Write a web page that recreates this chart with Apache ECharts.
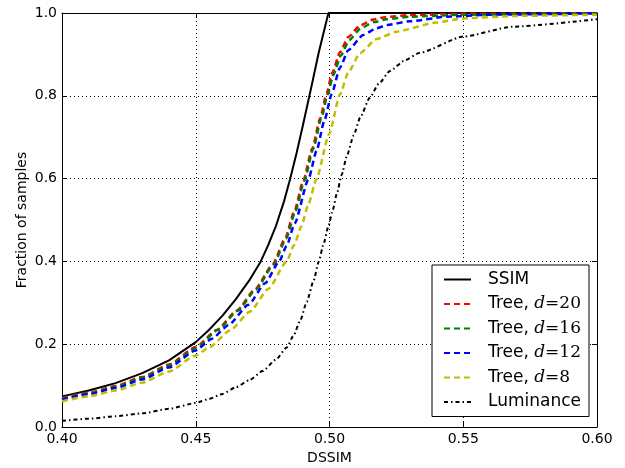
<!DOCTYPE html>
<html>
<head>
<meta charset="utf-8">
<script src="https://cdn.jsdelivr.net/npm/echarts@6/dist/echarts.min.js"></script>
<style>html,body{margin:0;padding:0;background:#fff;}#c{width:625px;height:468px;}</style>
</head>
<body>
<div id="c"></div>
<script>
var xTicks = [0.40, 0.45, 0.50, 0.55, 0.60];
var yTicks = [0.0, 0.2, 0.4, 0.6, 0.8, 1.0];

var ssim = [[0.400,0.074],[0.410,0.088],[0.420,0.106],[0.430,0.130],[0.440,0.161],[0.450,0.205],[0.455,0.235],[0.460,0.269],[0.465,0.309],[0.470,0.354],[0.4743,0.400],[0.4770,0.438],[0.4800,0.486],[0.4830,0.545],[0.4852,0.597],[0.4877,0.662],[0.4900,0.727],[0.4930,0.815],[0.4960,0.905],[0.4996,1.0],[0.600,1.0]];
var tree20 = [[0.400,0.070],[0.410,0.083],[0.420,0.099],[0.430,0.121],[0.440,0.151],[0.450,0.193],[0.4578,0.234],[0.4653,0.281],[0.4721,0.332],[0.4787,0.392],[0.4834,0.455],[0.4868,0.520],[0.4902,0.595],[0.4935,0.672],[0.4965,0.745],[0.4989,0.805],[0.5010,0.855],[0.5039,0.905],[0.5070,0.942],[0.5114,0.970],[0.5163,0.984],[0.5208,0.990],[0.530,0.995],[0.550,0.998],[0.600,1.0]];
var tree16 = [[0.400,0.068],[0.410,0.081],[0.420,0.097],[0.430,0.119],[0.440,0.148],[0.450,0.190],[0.4582,0.234],[0.4657,0.281],[0.4725,0.332],[0.4791,0.392],[0.4838,0.455],[0.4872,0.520],[0.4906,0.595],[0.4939,0.672],[0.4969,0.745],[0.4993,0.803],[0.5014,0.850],[0.5043,0.898],[0.5074,0.935],[0.5118,0.964],[0.5167,0.978],[0.5212,0.985],[0.530,0.991],[0.550,0.996],[0.600,0.999]];
var tree12 = [[0.400,0.066],[0.410,0.079],[0.420,0.094],[0.430,0.115],[0.440,0.144],[0.450,0.185],[0.4560,0.213],[0.4622,0.246],[0.4697,0.295],[0.4759,0.347],[0.4812,0.400],[0.4840,0.438],[0.4870,0.492],[0.4921,0.598],[0.4952,0.668],[0.4980,0.738],[0.5008,0.804],[0.5039,0.868],[0.5070,0.910],[0.5126,0.947],[0.5176,0.963],[0.5215,0.971],[0.530,0.980],[0.544,0.991],[0.560,0.996],[0.600,0.999]];
var tree8 = [[0.400,0.062],[0.410,0.074],[0.420,0.088],[0.430,0.107],[0.440,0.134],[0.450,0.173],[0.455,0.192],[0.4628,0.233],[0.4703,0.279],[0.4772,0.334],[0.4840,0.400],[0.4868,0.440],[0.4895,0.485],[0.4922,0.540],[0.4950,0.597],[0.4999,0.708],[0.5039,0.803],[0.5070,0.856],[0.5114,0.903],[0.5176,0.937],[0.5250,0.955],[0.540,0.977],[0.550,0.987],[0.570,0.993],[0.600,0.996]];
var luminance = [[0.400,0.015],[0.410,0.020],[0.420,0.026],[0.430,0.033],[0.440,0.044],[0.450,0.058],[0.455,0.068],[0.460,0.080],[0.465,0.096],[0.470,0.113],[0.475,0.135],[0.480,0.163],[0.484,0.192],[0.4865,0.220],[0.489,0.256],[0.4915,0.302],[0.494,0.352],[0.496,0.400],[0.4977,0.440],[0.4996,0.485],[0.5012,0.524],[0.5028,0.565],[0.5045,0.608],[0.5065,0.655],[0.5090,0.704],[0.5115,0.748],[0.5150,0.795],[0.5185,0.830],[0.5226,0.860],[0.5282,0.886],[0.5338,0.904],[0.550,0.943],[0.5686,0.967],[0.600,0.985]];

var names = ['SSIM', 'Tree, d=20', 'Tree, d=16', 'Tree, d=12', 'Tree, d=8', 'Luminance'];
var colors = ['#000000', '#ff0000', '#008000', '#0000ff', '#bfbf00', '#000000'];

var font = 'DejaVu Sans';
var chart = echarts.init(document.getElementById('c'), null, {renderer: 'canvas'});

function mkSeries(name, data, color, type, width, smooth) {
  return {
    name: name, type: 'line', data: data, symbol: 'none',
    smooth: smooth, smoothMonotone: 'x',
    xAxisIndex: 0, yAxisIndex: 0,
    lineStyle: {color: color, width: width, type: type},
    itemStyle: {color: color},
    animation: false, z: 3
  };
}

var axisCommon = {
  axisLine: {show: true, onZero: false, lineStyle: {color: '#000', width: 1}},
  axisTick: {show: true, inside: true, length: 5, lineStyle: {color: '#000', width: 1}}
};

var option = {
  backgroundColor: '#fff',
  animation: false,
  grid: {left: 62, right: 28, top: 13, bottom: 41, containLabel: false, outerBoundsMode: 'none'},
  xAxis: [
    Object.assign({
      type: 'value', min: 0.4, max: 0.6, interval: 0.05, position: 'bottom',
      name: 'DSSIM', nameLocation: 'middle', nameGap: 24, nameMoveOverlap: false,
      nameTextStyle: {fontFamily: font, fontSize: 14, color: '#000'},
      axisLabel: {fontFamily: font, fontSize: 14, color: '#000', margin: 5,
        formatter: function (v) { return v.toFixed(2); }},
      splitLine: {show: true, lineStyle: {color: '#000', type: [1, 3], width: 1}}
    }, axisCommon),
    Object.assign({
      type: 'value', min: 0.4, max: 0.6, interval: 0.05, position: 'top',
      axisLabel: {show: false}, splitLine: {show: false}
    }, axisCommon)
  ],
  yAxis: [
    Object.assign({
      type: 'value', min: 0, max: 1, interval: 0.2, position: 'left',
      name: 'Fraction of samples', nameLocation: 'middle', nameGap: 33, nameMoveOverlap: false,
      nameTextStyle: {fontFamily: font, fontSize: 14, color: '#000'},
      axisLabel: {fontFamily: font, fontSize: 14, color: '#000', margin: 5,
        formatter: function (v) { return v.toFixed(1); }},
      splitLine: {show: true, lineStyle: {color: '#000', type: [1, 3], width: 1}}
    }, axisCommon),
    Object.assign({
      type: 'value', min: 0, max: 1, interval: 0.2, position: 'right',
      axisLabel: {show: false}, splitLine: {show: false}
    }, axisCommon)
  ],
  legend: {
    orient: 'vertical', left: 432, top: 265,
    data: names,
    backgroundColor: '#fff', borderColor: '#000', borderWidth: 1, borderRadius: 0,
    padding: [6, 8, 6, 11],
    itemWidth: 27, itemHeight: 14, itemGap: 7.5,
    itemStyle: {opacity: 0, borderWidth: 0},
    textStyle: {
      fontFamily: font, fontSize: 17, color: '#000', lineHeight: 17, padding: [0, 0, 0, 12],
      rich: {
        i: {fontFamily: 'DejaVu Serif', fontStyle: 'italic', fontSize: 17, color: '#000'},
        m: {fontFamily: 'DejaVu Serif', fontSize: 17, color: '#000'}
      }
    },
    formatter: function (n) {
      var m = n.match(/^Tree, d=(\d+)$/);
      if (m) { return 'Tree, {i|d}{m|=' + m[1] + '}'; }
      return n;
    }
  },
  series: [
    mkSeries(names[0], ssim, colors[0], 'solid', 2, false),
    mkSeries(names[1], tree20, colors[1], [6, 4], 2.5, 0.2),
    mkSeries(names[2], tree16, colors[2], [6, 4], 2.5, 0.2),
    mkSeries(names[3], tree12, colors[3], [6, 4], 2.5, 0.2),
    mkSeries(names[4], tree8, colors[4], [6, 4], 2.5, 0.2),
    mkSeries(names[5], luminance, colors[5], [4, 3, 1.5, 3], 2, 0.2)
  ]
};
chart.setOption(option);
</script>
</body>
</html>
